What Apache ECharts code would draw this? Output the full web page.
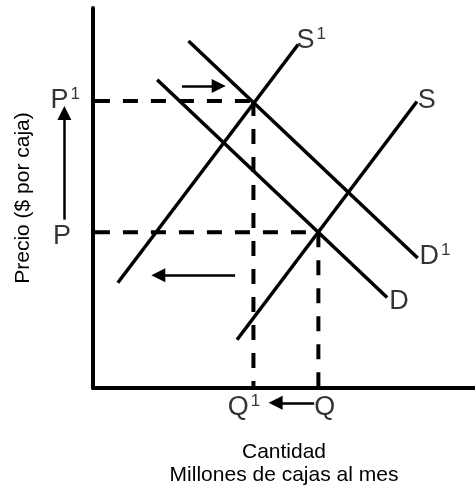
<!DOCTYPE html>
<html>
<head>
<meta charset="utf-8">
<script src="https://cdn.jsdelivr.net/npm/echarts@6/dist/echarts.min.js"></script>
<style>
  html, body { margin: 0; padding: 0; background: #fff; }
  #chart { width: 475px; height: 492px; }
</style>
</head>
<body>
<div id="chart"></div>
<script>
// curves: [start, end] in chart units (0-100 on both axes)
var supplyOld = [[37.7, 12.7], [84.8, 75.4]];   // S
var supplyNew = [[6.5, 27.7], [53.7, 90.4]];    // S1
var demandOld = [[16.8, 81.1], [77.0, 23.8]];   // D
var demandNew = [[25.0, 91.3], [85.0, 34.2]];   // D1

// equilibrium levels
var priceOld = 41, priceNew = 75.5;
var qtyOld = 59, qtyNew = 42;

// arrows [from, to]
var arrows = [
  [[-7.5, 44.3], [-7.5, 72.4]],
  [[23.3, 79.5], [32.9, 79.5]],
  [[37.2, 29.7], [17.1, 29.7]],
  [[57.9, -3.9], [47.8, -3.9]]
];

// labels: text, superscript, x, y
var labelText = ['S', 'S', 'D', 'D', 'P', 'P', 'Q', 'Q'];
var labelSup  = ['1', '',  '1', '',  '1', '',  '1', ''];
var labelX    = [57.1, 87.4, 89.5, 80.1, -7.3, -8.1, 39.5, 60.7];
var labelY    = [91.5, 75.6, 34.7, 22.8, 75.6, 39.9, -5.2, -5.2];

var chart = echarts.init(document.getElementById('chart'));

var solid = { color: '#000', width: 3.5 };
var dashed = { color: '#000', width: 4, type: [15, 13] };

function seg(data, style) {
  return {
    type: 'line', data: data, symbol: 'none', silent: true,
    lineStyle: style, animation: false
  };
}

var labelData = labelText.map(function (t, i) {
  return { value: [labelX[i], labelY[i]], name: t, sup: labelSup[i] };
});

chart.setOption({
  backgroundColor: '#fff',
  animation: false,
  grid: { left: 93, right: 0, top: 8, bottom: 98 },
  xAxis: {
    type: 'value', min: 0, max: 100,
    axisLine: { lineStyle: { color: '#000', width: 4 } },
    axisTick: { show: false }, axisLabel: { show: false }, splitLine: { show: false },
    name: 'Cantidad\nMillones de cajas al mes',
    nameLocation: 'middle', nameGap: 53,
    nameTextStyle: { color: '#000', fontSize: 21, lineHeight: 23, fontFamily: 'Liberation Sans' }
  },
  yAxis: {
    type: 'value', min: 0, max: 100,
    axisLine: { lineStyle: { color: '#000', width: 4 } },
    axisTick: { show: false }, axisLabel: { show: false }, splitLine: { show: false },
    name: 'Precio ($ por caja)',
    nameLocation: 'middle', nameGap: 59,
    nameTextStyle: { color: '#000', fontSize: 21, fontFamily: 'Liberation Sans' }
  },
  series: [
    seg([[0.5, priceNew], [qtyNew, priceNew]], dashed),
    seg([[0.5, priceOld], [qtyOld, priceOld]], dashed),
    seg([[qtyNew, priceNew], [qtyNew, 0]], dashed),
    seg([[qtyOld, priceOld], [qtyOld, 0]], dashed),
    seg(supplyOld, solid),
    seg(supplyNew, solid),
    seg(demandOld, solid),
    seg(demandNew, solid),
    {
      type: 'lines', coordinateSystem: 'cartesian2d', clip: false, silent: true,
      symbol: ['none', 'triangle'], symbolSize: 14,
      lineStyle: { color: '#000', width: 2.5, opacity: 1 },
      itemStyle: { color: '#000' },
      data: arrows.map(function (a) { return { coords: a }; })
    },
    {
      type: 'scatter', clip: false, silent: true, symbolSize: 0,
      data: labelData,
      label: {
        show: true, position: 'inside', color: '#000',
        fontFamily: 'Liberation Sans',
        formatter: function (p) {
          return '{m|' + p.data.name + '}' + (p.data.sup ? '{s|' + p.data.sup + '}' : '');
        },
        rich: {
          m: { fontSize: 27, lineHeight: 29, color: '#000', fontFamily: 'Liberation Sans' },
          s: { fontSize: 17, lineHeight: 17, color: '#000', verticalAlign: 'top', padding: [0, 0, 0, 2], fontFamily: 'Liberation Sans' }
        }
      }
    }
  ]
});
</script>
</body>
</html>
